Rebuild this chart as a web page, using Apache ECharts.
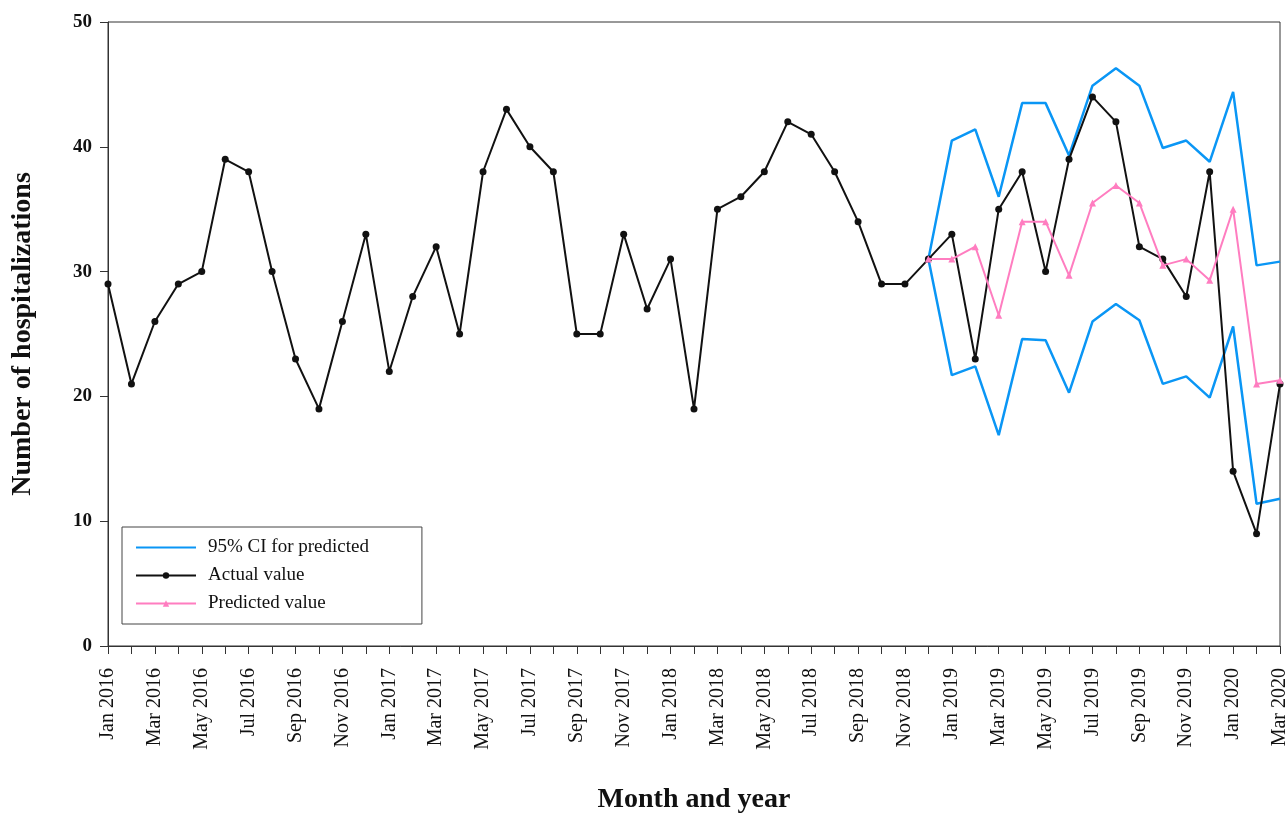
<!DOCTYPE html>
<html>
<head>
<meta charset="utf-8">
<script src="https://cdn.jsdelivr.net/npm/echarts@6/dist/echarts.min.js"></script>
<style>html,body{margin:0;padding:0;background:#fff}#c{width:1285px;height:816px}</style>
</head>
<body>
<div id="c"></div>
<script>
const months = ['Jan','Feb','Mar','Apr','May','Jun','Jul','Aug','Sep','Oct','Nov','Dec'];
const years = [2016, 2017, 2018, 2019, 2020];
const categories = [];
years.forEach(y => months.forEach(m => categories.push(m + ' ' + y)));
categories.length = 51; // Jan 2016 .. Mar 2020

const actual = [29,21,26,29,30,39,38,30,23,19,26,33,
                22,28,32,25,38,43,40,38,25,25,33,27,
                31,19,35,36,38,42,41,38,34,29,29,31,
                33,23,35,38,30,39,44,42,32,31,28,38,
                14,9,21];

const gap = new Array(35).fill(null);
const predicted = gap.concat([31, 31,32,26.5,34,34,29.7,35.5,36.9,35.5,30.5,31,29.3, 35,21,21.3]);
const ciUpper   = gap.concat([31, 40.5,41.4,36,43.5,43.5,39.3,44.9,46.3,44.9,39.9,40.5,38.8, 44.4,30.5,30.8]);
const ciLower   = gap.concat([31, 21.7,22.4,16.9,24.6,24.5,20.3,26.0,27.4,26.1,21.0,21.6,19.9, 25.6,11.4,11.8]);

const serif = '"Liberation Serif", "DejaVu Serif", serif';
const blue = '#0A96F5', pink = '#FF7DC0', black = '#111';
const chart = echarts.init(document.getElementById('c'));
chart.setOption({
  animation: false,
  backgroundColor: '#fff',
  textStyle: { fontFamily: serif },
  grid: { left: 108, right: 5, top: 22, bottom: 170, outerBoundsMode: 'none', containLabel: false,
          show: true, borderColor: '#333', borderWidth: 1 },
  legend: {
    orient: 'vertical',
    left: 122, top: 527,
    padding: [11, 53, 11, 13],
    itemGap: 9,
    itemWidth: 60, itemHeight: 8,
    borderColor: '#444', borderWidth: 1,
    textStyle: { fontFamily: serif, fontSize: 19, color: black, padding: [0, 0, 0, 7] },
    data: [
      { name: '95% CI for predicted', itemStyle: { opacity: 0 } },
      { name: 'Actual value' },
      { name: 'Predicted value' }
    ]
  },
  xAxis: {
    type: 'category',
    data: categories,
    boundaryGap: false,
    name: 'Month and year',
    nameLocation: 'middle',
    nameGap: 140,
    nameTextStyle: { fontFamily: serif, fontSize: 28, fontWeight: 'bold', color: black },
    axisLine: { lineStyle: { color: '#333', width: 1 } },
    axisTick: { show: true, interval: 0, length: 8, lineStyle: { color: '#333' } },
    axisLabel: { interval: 1, rotate: 90, fontSize: 20, color: black, fontFamily: serif, margin: 22 },
    splitLine: { show: false }
  },
  yAxis: {
    type: 'value',
    min: 0, max: 50, interval: 10,
    name: 'Number of hospitalizations',
    nameLocation: 'middle',
    nameGap: 71,
    nameTextStyle: { fontFamily: serif, fontSize: 28, fontWeight: 'bold', color: black },
    axisLine: { show: true, lineStyle: { color: '#333', width: 1 } },
    axisTick: { show: true, length: 8, lineStyle: { color: '#333' } },
    axisLabel: { fontSize: 19, color: black, fontFamily: serif, margin: 16, fontWeight: 'bold' },
    splitLine: { show: false }
  },
  series: [
    {
      name: '95% CI for predicted', type: 'line', data: ciUpper,
      showSymbol: false, symbol: 'none',
      lineStyle: { color: blue, width: 2.5 }, itemStyle: { color: blue }, z: 2
    },
    {
      name: '95% CI for predicted', type: 'line', data: ciLower,
      showSymbol: false, symbol: 'none',
      lineStyle: { color: blue, width: 2.5 }, itemStyle: { color: blue }, z: 2
    },
    {
      name: 'Actual value', type: 'line', data: actual,
      symbol: 'circle', symbolSize: 7,
      lineStyle: { color: black, width: 2 }, itemStyle: { color: black }, z: 3
    },
    {
      name: 'Predicted value', type: 'line', data: predicted,
      symbol: 'triangle', symbolSize: 7,
      lineStyle: { color: pink, width: 2 }, itemStyle: { color: pink }, z: 4
    }
  ]
});
</script>
</body>
</html>
